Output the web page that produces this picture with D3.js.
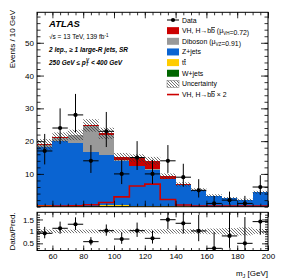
<!DOCTYPE html>
<html>
<head>
<meta charset="utf-8">
<script src="https://cdn.jsdelivr.net/npm/d3@7"></script>
<style>
  body { margin: 0; background: #fff; }
  svg text { font-family: "Liberation Sans", Arial, Helvetica, sans-serif; fill: #000; }
</style>
</head>
<body>
<div id="chart"></div>
<script>
// bins of m_J (lower edges, 10 GeV wide)
const binLow = [50, 60, 70, 80, 90, 100, 110, 120, 130, 140, 150, 160, 170, 180, 190];
const binWidth = 10;

// data with (asymmetric) errors
const dataCounts = [17, 24, 28, 14, 23, 10, 15, 10, 14, 9, 5, 1, 2, 1, 6];
const dataErrUp  = [5.2, 6.0, 6.4, 4.8, 5.9, 4.3, 5.0, 4.3, 4.8, 4.1, 3.4, 2.3, 2.6, 2.3, 3.6];
const dataErrDn  = [4.1, 4.9, 5.3, 3.7, 4.8, 3.1, 3.8, 3.1, 3.7, 2.9, 2.2, 0.8, 1.3, 0.8, 2.4];

// stacked backgrounds + signal (bottom to top)
const wjets   = [0.05, 0.05, 0.05, 0.1, 0.3, 0.1, 0.05, 0.05, 0.05, 0.03, 0.02, 0.02, 0.02, 0.02, 0.02];
const ttbar   = [0.5, 0.3, 0.2, 0.2, 0.15, 0.3, 0.2, 0.2, 0.1, 0.05, 0.03, 0.03, 0.02, 0.02, 0.02];
const zjets   = [17.6, 19.75, 19.25, 16.28, 15.28, 13.52, 12.08, 11.07, 8.25, 6.47, 4.98, 3.25, 2.5, 2.0, 4.3];
const diboson = [0.8, 1.0, 2.3, 8.0, 6.2, 0.2, 0.2, 0.2, 0.1, 0.07, 0.03, 0.03, 0.03, 0.03, 0.03];
const vhSig   = [0.07, 0.07, 0.1, 0.22, 0.47, 1.08, 2.27, 2.48, 0.8, 0.18, 0.07, 0.07, 0.03, 0.03, 0.03];
const bkgUnc  = [1.6, 1.5, 1.6, 1.9, 1.7, 1.2, 1.2, 1.2, 0.85, 0.65, 0.5, 0.4, 0.35, 0.35, 0.45];

// VH x 2 line
const vhTimes2 = [0.2, 0.2, 0.3, 0.6, 1.3, 3.0, 6.3, 6.9, 2.2, 0.5, 0.2, 0.2, 0.2, 0.2, 0.2];

// ratio panel
const ratioVals  = [0.92, 1.13, 1.30, 0.57, 1.03, 0.68, 1.03, 0.71, 1.49, 1.34, 1.02, 0.29, 0.81, 0.50, 1.41];
const ratioErrUp = [0.27, 0.28, 0.29, 0.19, 0.26, 0.28, 0.34, 0.31, 0.52, 0.60, 0.67, 0.68, 1.0, 1.1, 0.82];
const ratioErrDn = [0.21, 0.23, 0.24, 0.15, 0.21, 0.20, 0.26, 0.22, 0.40, 0.43, 0.43, 0.24, 0.5, 0.4, 0.55];

// tick labels
const xTickLabels = [60, 80, 100, 120, 140, 160, 180, 200];
const yTickLabels = [10, 20, 30, 40, 50];
const rTickLabels = [0.5, 1, 1.5];

const colors = {
  vh: "#cc0000", diboson: "#999999", zjets: "#0a64d2", ttbar: "#ffcc00", wjets: "#006600"
};

const width = 291, height = 279;
const frame = {left: 37, right: 268, top: 12.3, mainBottom: 206.7, ratioTop: 212.3, ratioBottom: 250.5};

const svg = d3.select("#chart").append("svg")
  .attr("width", width).attr("height", height);

const defs = svg.append("defs");
const pat = defs.append("pattern").attr("id", "hatch")
  .attr("patternUnits", "userSpaceOnUse").attr("width", 3).attr("height", 3);
pat.append("path").attr("d", "M-1,2 l2,2 M0,0 l3,3 M2,-1 l2,2")
  .attr("stroke", "#333").attr("stroke-width", 0.7);

defs.append("clipPath").attr("id", "clipMain").append("rect")
  .attr("x", frame.left).attr("y", frame.top)
  .attr("width", frame.right - frame.left).attr("height", frame.mainBottom - frame.top);
defs.append("clipPath").attr("id", "clipRatio").append("rect")
  .attr("x", frame.left).attr("y", frame.ratioTop)
  .attr("width", frame.right - frame.left).attr("height", frame.ratioBottom - frame.ratioTop);

// scales
const x = d3.scaleLinear().domain([50, 200]).range([frame.left, frame.right]);
const y = d3.scaleLinear().domain([0, 59.3]).range([frame.mainBottom, frame.top]);
const yr = d3.scaleLinear().domain([0.2, 1.8]).range([frame.ratioBottom, frame.ratioTop]);

// stack
const rows = binLow.map((b, i) => ({
  low: b, wjets: wjets[i], ttbar: ttbar[i], zjets: zjets[i], diboson: diboson[i], vh: vhSig[i]
}));
const keys = ["wjets", "ttbar", "zjets", "diboson", "vh"];
const series = d3.stack().keys(keys)(rows);

const main = svg.append("g").attr("clip-path", "url(#clipMain)");

series.forEach(s => {
  main.append("g").selectAll("rect").data(s).enter().append("rect")
    .attr("x", d => x(d.data.low))
    .attr("width", d => x(d.data.low + binWidth) - x(d.data.low))
    .attr("y", d => y(d[1]))
    .attr("height", d => y(d[0]) - y(d[1]))
    .attr("fill", colors[s.key])
    .attr("shape-rendering", "crispEdges");
});

// uncertainty band on the total
const totals = rows.map(r => keys.reduce((a, k) => a + r[k], 0));
main.append("g").selectAll("rect").data(rows).enter().append("rect")
  .attr("x", d => x(d.low))
  .attr("width", d => x(d.low + binWidth) - x(d.low))
  .attr("y", (d, i) => y(totals[i] + bkgUnc[i]))
  .attr("height", (d, i) => y(totals[i] - bkgUnc[i]) - y(totals[i] + bkgUnc[i]))
  .attr("fill", "url(#hatch)");

// VH x 2 line
const stepPts = binLow.map((b, i) => [b, vhTimes2[i]]);
stepPts.push([200, vhTimes2[vhTimes2.length - 1]]);
main.append("path")
  .attr("d", d3.line().x(d => x(d[0])).y(d => y(d[1])).curve(d3.curveStepAfter)(stepPts))
  .attr("fill", "none").attr("stroke", colors.vh).attr("stroke-width", 1.6);

// data points
function drawPoints(g, yScale, vals, up, dn) {
  const pts = g.append("g").selectAll("g").data(binLow).enter().append("g");
  pts.append("line")
    .attr("x1", (d, i) => x(d)).attr("x2", (d, i) => x(d + binWidth))
    .attr("y1", (d, i) => yScale(vals[i])).attr("y2", (d, i) => yScale(vals[i]))
    .attr("stroke", "#000").attr("stroke-width", 1);
  pts.append("line")
    .attr("x1", d => x(d + binWidth / 2)).attr("x2", d => x(d + binWidth / 2))
    .attr("y1", (d, i) => yScale(vals[i] + up[i])).attr("y2", (d, i) => yScale(vals[i] - dn[i]))
    .attr("stroke", "#000").attr("stroke-width", 1);
  pts.append("circle")
    .attr("cx", d => x(d + binWidth / 2)).attr("cy", (d, i) => yScale(vals[i]))
    .attr("r", 2.1).attr("fill", "#000");
}
drawPoints(main, y, dataCounts, dataErrUp, dataErrDn);

// ratio panel
const ratio = svg.append("g").attr("clip-path", "url(#clipRatio)");
ratio.append("g").selectAll("rect").data(rows).enter().append("rect")
  .attr("x", d => x(d.low))
  .attr("width", d => x(d.low + binWidth) - x(d.low))
  .attr("y", (d, i) => yr(1 + bkgUnc[i] / totals[i]))
  .attr("height", (d, i) => yr(1 - bkgUnc[i] / totals[i]) - yr(1 + bkgUnc[i] / totals[i]))
  .attr("fill", "url(#hatch)");
drawPoints(ratio, yr, ratioVals, ratioErrUp, ratioErrDn);

// frames
[[frame.top, frame.mainBottom], [frame.ratioTop, frame.ratioBottom]].forEach(([t, b]) => {
  svg.append("rect").attr("x", frame.left).attr("y", t)
    .attr("width", frame.right - frame.left).attr("height", b - t)
    .attr("fill", "none").attr("stroke", "#000").attr("stroke-width", 1);
});

// ticks (inward, ATLAS style)
function ticks(axisFn, scale, values, size, pos, fmt) {
  const ax = axisFn(scale).tickValues(values).tickSizeInner(-size).tickSizeOuter(0)
    .tickPadding(fmt ? 3 : 0).tickFormat(fmt || "");
  const g = svg.append("g").attr("transform", pos).call(ax)
    .attr("font-family", null).attr("font-size", 8);
  g.select(".domain").remove();
  g.selectAll("line").attr("stroke", "#000").attr("stroke-width", 0.8);
  g.selectAll("text").attr("fill", "#000");
  return g;
}
const xMinor = d3.range(50, 201, 5);
const yMinor = d3.range(0, 59, 2);
const rMinor = d3.range(0.3, 1.8, 0.1).map(v => +v.toFixed(1));

// main panel
ticks(d3.axisBottom, x, xTickLabels, 6, `translate(0,${frame.mainBottom})`);
ticks(d3.axisBottom, x, xMinor, 3, `translate(0,${frame.mainBottom})`);
ticks(d3.axisTop, x, xTickLabels, 6, `translate(0,${frame.top})`);
ticks(d3.axisTop, x, xMinor, 3, `translate(0,${frame.top})`);
ticks(d3.axisLeft, y, yTickLabels, 7, `translate(${frame.left},0)`, d => d);
ticks(d3.axisLeft, y, yMinor, 3.5, `translate(${frame.left},0)`);
ticks(d3.axisRight, y, yTickLabels, 7, `translate(${frame.right},0)`);
ticks(d3.axisRight, y, yMinor, 3.5, `translate(${frame.right},0)`);

// ratio panel
ticks(d3.axisBottom, x, xTickLabels, 5, `translate(0,${frame.ratioBottom})`, d => d);
ticks(d3.axisBottom, x, xMinor, 2.5, `translate(0,${frame.ratioBottom})`);
ticks(d3.axisTop, x, xTickLabels, 5, `translate(0,${frame.ratioTop})`);
ticks(d3.axisTop, x, xMinor, 2.5, `translate(0,${frame.ratioTop})`);
ticks(d3.axisLeft, yr, rTickLabels, 6, `translate(${frame.left},0)`, d => String(d));
ticks(d3.axisLeft, yr, rMinor, 3, `translate(${frame.left},0)`);
ticks(d3.axisRight, yr, rTickLabels, 6, `translate(${frame.right},0)`);
ticks(d3.axisRight, yr, rMinor, 3, `translate(${frame.right},0)`);

// axis titles
svg.append("text")
  .attr("transform", "translate(14.5,10) rotate(-90)")
  .attr("text-anchor", "end").attr("font-size", 8)
  .text("Events / 10 GeV");
svg.append("text")
  .attr("transform", `translate(14.5,${yr(1)}) rotate(-90)`)
  .attr("text-anchor", "middle").attr("font-size", 8)
  .text("Data/Pred.");
const xt = svg.append("text").attr("x", frame.right).attr("y", 276)
  .attr("text-anchor", "end").attr("font-size", 8);
xt.append("tspan").text("m");
xt.append("tspan").attr("font-size", 5.5).attr("dy", 1.5).text("J");
xt.append("tspan").attr("dy", -1.5).text(" [GeV]");

// ATLAS label block
svg.append("text").attr("x", 49).attr("y", 27)
  .attr("font-size", 9.5).attr("font-weight", "bold").attr("font-style", "italic")
  .text("ATLAS");
const sq = svg.append("text").attr("x", 49).attr("y", 39).attr("font-size", 6.5);
sq.append("tspan").text("\u221As = 13 TeV, 139 fb");
sq.append("tspan").attr("font-size", 4.5).attr("dy", -2.5).text("-1");
svg.append("text").attr("x", 49).attr("y", 51.5)
  .attr("font-size", 6.5).attr("font-weight", "bold").attr("font-style", "italic")
  .text("2 lep., \u2265 1 large-R jets,  SR");
const pt = svg.append("text").attr("x", 49).attr("y", 64.5)
  .attr("font-size", 6.5).attr("font-weight", "bold").attr("font-style", "italic");
pt.append("tspan").text("250 GeV \u2264 p");
pt.append("tspan").attr("font-size", 4.5).attr("dy", 1.8).text("T");
pt.append("tspan").attr("font-size", 4.5).attr("dx", -2.5).attr("dy", -4.5).text("V");
pt.append("tspan").attr("dy", 2.7).text(" < 400 GeV");

// legend
const leg = svg.append("g");
const legX = 167, legY0 = 20, legStep = 10.65;
const legendItems = [
  {type: "data", parts: [["Data"]]},
  {type: "box", fill: colors.vh, parts: [["VH, H\u2192b"], ["b", "bar"], [" (\u03bc"], ["VH", "sub"], ["=0.72)"]]},
  {type: "box", fill: colors.diboson, parts: [["Diboson (\u03bc"], ["VZ", "sub"], ["=0.91)"]]},
  {type: "box", fill: colors.zjets, parts: [["Z+jets"]]},
  {type: "box", fill: colors.ttbar, parts: [["t"], ["t", "bar"]]},
  {type: "box", fill: colors.wjets, parts: [["W+jets"]]},
  {type: "hatch", parts: [["Uncertainty"]]},
  {type: "line", parts: [["VH, H\u2192b"], ["b", "bar"], [" \u00d7 2"]]}
];
legendItems.forEach((it, i) => {
  const cy = legY0 + i * legStep;
  if (it.type === "data") {
    leg.append("line").attr("x1", legX).attr("x2", legX + 12).attr("y1", cy).attr("y2", cy)
      .attr("stroke", "#000").attr("stroke-width", 1);
    leg.append("circle").attr("cx", legX + 6).attr("cy", cy).attr("r", 2.1).attr("fill", "#000");
  } else if (it.type === "box") {
    leg.append("rect").attr("x", legX).attr("y", cy - 3.5).attr("width", 12).attr("height", 7)
      .attr("fill", it.fill);
  } else if (it.type === "hatch") {
    leg.append("rect").attr("x", legX).attr("y", cy - 3.5).attr("width", 12).attr("height", 7)
      .attr("fill", "url(#hatch)").attr("stroke", "#777").attr("stroke-width", 0.5);
  } else {
    leg.append("line").attr("x1", legX).attr("x2", legX + 12).attr("y1", cy).attr("y2", cy)
      .attr("stroke", colors.vh).attr("stroke-width", 1.6);
  }
  const t = leg.append("text").attr("x", legX + 15).attr("y", cy + 2.5).attr("font-size", 6.9);
  it.parts.forEach(([s, kind]) => {
    if (kind === "sub") {
      t.append("tspan").attr("font-size", 4.5).attr("dy", 1.8).text(s);
      t.append("tspan").attr("dy", -1.8).text("");
    } else if (kind === "bar") {
      t.append("tspan").style("text-decoration", "overline").text(s);
    } else {
      t.append("tspan").text(s);
    }
  });
});
</script>
</body>
</html>
